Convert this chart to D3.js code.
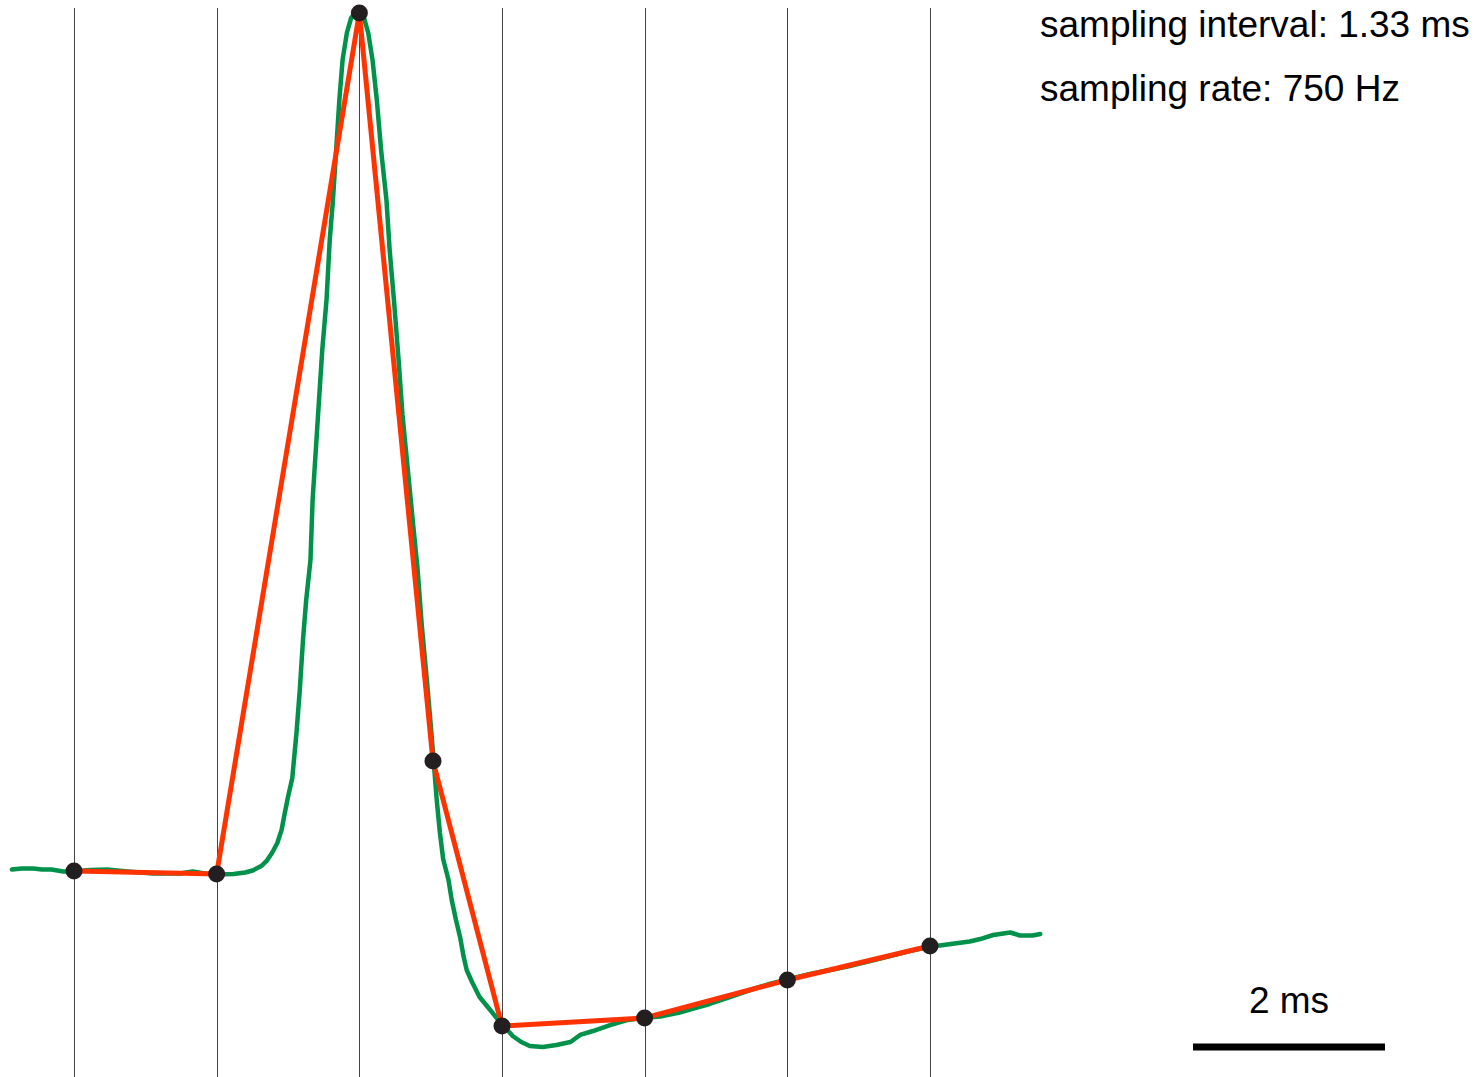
<!DOCTYPE html>
<html>
<head>
<meta charset="utf-8">
<script src="https://cdn.jsdelivr.net/npm/d3@7"></script>
<style>
body { margin: 0; background: #fff; }
svg { display: block; }
text { font-family: "Liberation Sans", Arial, sans-serif; fill: #000; }
</style>
</head>
<body>
<script>
//Width and height
var width = 1482;
var height = 1077;

//Continuous recording (time in ms, amplitude in % of peak)
var traceTime = [-0.58, -0.49, -0.38, -0.30, -0.21, -0.10, -0.01, 0.15, 0.31, 0.50, 0.74, 0.99, 1.11, 1.22, 1.32,
	1.49, 1.60, 1.67, 1.75, 1.80, 1.85, 1.90, 1.94, 1.97, 2.00, 2.04, 2.06, 2.08, 2.11, 2.14, 2.17, 2.21, 2.23,
	2.26, 2.29, 2.32, 2.36, 2.39, 2.42, 2.45, 2.48, 2.51, 2.55, 2.59, 2.63, 2.66,
	2.71, 2.75, 2.79, 2.83, 2.87, 2.92, 2.95, 2.99, 3.03, 3.07, 3.12, 3.17, 3.21, 3.25, 3.30, 3.33, 3.36,
	3.39, 3.42, 3.45, 3.50, 3.53, 3.57, 3.61, 3.64, 3.67, 3.72, 3.79, 3.89, 3.98, 4.05, 4.10, 4.18, 4.26,
	4.38, 4.51, 4.64, 4.73, 4.85, 5.01, 5.17, 5.32, 5.48, 5.66, 5.79, 5.94, 6.13, 6.32, 6.50, 6.65, 6.88,
	7.07, 7.25, 7.44, 7.63, 7.81, 7.99, 8.16, 8.37, 8.47, 8.59, 8.75, 8.84, 8.96, 9.03];
var traceValue = [0.17, 0.29, 0.29, 0.17, 0.17, -0.06, -0.06, 0.12, 0.17, -0.06, -0.29, -0.29, -0.06, -0.29, -0.41,
	-0.35, -0.17, 0.06, 0.58, 1.17, 2.10, 3.26, 4.78, 6.76, 8.62, 10.84, 13.52, 16.20, 21.10, 26.92, 31.59, 36.25, 43.24,
	49.07, 54.90, 60.72, 66.55, 73.54, 78.21, 84.03, 89.86, 94.52, 97.67, 99.42, 100.12, 100.12,
	99.42, 97.67, 94.52, 89.86, 84.03, 78.21, 72.38, 66.55, 60.14, 53.15, 46.74, 40.33, 35.31, 28.67, 21.91, 17.60, 13.05,
	8.28, 4.43, 1.40, -1.05, -3.38, -5.71, -7.81, -9.91, -11.54, -12.94, -14.69, -16.20, -17.60, -18.53, -19.23, -19.93, -20.40,
	-20.51, -20.28, -19.93, -19.11, -18.65, -17.95, -17.37, -17.13, -16.96, -16.49, -16.03, -15.50, -14.69, -13.87, -13.17, -12.70, -12.00,
	-11.54, -11.07, -10.49, -9.91, -9.32, -8.86, -8.57, -8.22, -7.93, -7.46, -7.17, -7.52, -7.52, -7.34];

//Samples taken from it
var sampleTime = [0, 1.333, 2.667, 3.355, 4.0, 5.333, 6.667, 8.0];
var sampleValue = [0, -0.35, 100, 12.82, -18.07, -17.13, -12.70, -8.74];

//Sampling grid
var gridTime = [0, 1.333, 2.667, 4.0, 5.333, 6.667, 8.0];

//Labels
var infoLines = ["sampling interval: 1.33 ms", "sampling rate: 750 Hz"];
var scaleLabel = "2 ms";

//Create SVG element
var svg = d3.select("body")
	.append("svg")
	.attr("width", width)
	.attr("height", height);

var x = d3.scaleLinear()
	.domain([0, 8])
	.range([74, 930]);

var y = d3.scaleLinear()
	.domain([0, 100])
	.range([871, 13]);

//Vertical grid at every sample
svg.selectAll("line.grid")
	.data(gridTime)
	.enter()
	.append("line")
	.attr("class", "grid")
	.attr("x1", function(d) { return Math.round(x(d)) + 0.5; })
	.attr("x2", function(d) { return Math.round(x(d)) + 0.5; })
	.attr("y1", 8)
	.attr("y2", height)
	.style("stroke", "#444")
	.style("stroke-width", 1);

var trace = traceTime.map(function(t, i) { return [t, traceValue[i]]; });
var samples = sampleTime.map(function(t, i) { return [t, sampleValue[i]]; });

var line = d3.line()
	.x(function(d) { return x(d[0]); })
	.y(function(d) { return y(d[1]); });

//Green continuous signal
svg.append("path")
	.datum(trace)
	.attr("d", line)
	.style("fill", "none")
	.style("stroke", "#00924a")
	.style("stroke-width", 4.5)
	.style("stroke-linejoin", "round")
	.style("stroke-linecap", "round");

//Red sampled signal
svg.append("path")
	.datum(samples)
	.attr("d", line)
	.style("fill", "none")
	.style("stroke", "#ff3300")
	.style("stroke-width", 5)
	.style("stroke-linejoin", "miter");

//Sample dots
svg.selectAll("circle")
	.data(samples)
	.enter()
	.append("circle")
	.attr("cx", function(d) { return x(d[0]); })
	.attr("cy", function(d) { return y(d[1]); })
	.attr("r", 8.5)
	.style("fill", "#231f20");

//Info text
svg.selectAll("text.info")
	.data(infoLines)
	.enter()
	.append("text")
	.attr("class", "info")
	.attr("x", 1040)
	.attr("y", function(d, i) { return 37 + i * 64; })
	.style("font-size", "37px")
	.text(function(d) { return d; });

//Scale bar
svg.append("line")
	.attr("x1", 1193)
	.attr("x2", 1385)
	.attr("y1", 1047)
	.attr("y2", 1047)
	.style("stroke", "#000")
	.style("stroke-width", 7);

svg.append("text")
	.attr("x", 1289)
	.attr("y", 1013)
	.attr("text-anchor", "middle")
	.style("font-size", "37px")
	.text(scaleLabel);
</script>
</body>
</html>
